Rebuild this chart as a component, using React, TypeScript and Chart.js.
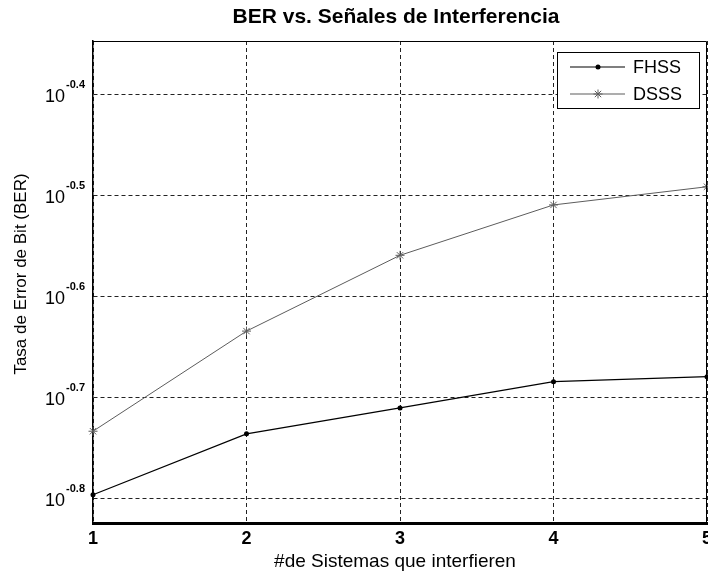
import React, { useEffect, useRef } from "react";
import { Chart, registerables } from "chart.js";

Chart.register(...registerables);

// Number of interfering systems
const systems = [1, 2, 3, 4, 5];
// Bit error rate per scheme
const fhssBer = [0.16, 0.1838, 0.195, 0.207, 0.2094];
const dsssBer = [0.1849, 0.2323, 0.2761, 0.3097, 0.3228];
// Decade exponents shown on the log axis
const yTickExponents = [-0.8, -0.7, -0.6, -0.5, -0.4];

const titleText = "BER vs. Señales de Interferencia";
const xTitleText = "#de Sistemas que interfieren";
const yTitleText = "Tasa de Error de Bit (BER)";
const seriesNames = ["FHSS", "DSSS"];

const FHSS_COLOR = "#000000";
const DSSS_COLOR = "#5c5c5c";
const FONT = "Arial, 'Liberation Sans', sans-serif";

function drawStar(ctx: CanvasRenderingContext2D, x: number, y: number, r: number) {
  const d = r * Math.SQRT1_2;
  ctx.beginPath();
  ctx.moveTo(x - r, y);
  ctx.lineTo(x + r, y);
  ctx.moveTo(x, y - r);
  ctx.lineTo(x, y + r);
  ctx.moveTo(x - d, y - d);
  ctx.lineTo(x + d, y + d);
  ctx.moveTo(x - d, y + d);
  ctx.lineTo(x + d, y - d);
  ctx.stroke();
}

const decorations = {
  id: "decorations",
  afterDraw(chart: any) {
    const { ctx, chartArea: a, scales } = chart;
    const yScale = scales.y;
    ctx.save();

    // top and right frame
    ctx.strokeStyle = "#000";
    ctx.lineWidth = 1;
    ctx.setLineDash([]);
    ctx.beginPath();
    ctx.moveTo(a.left, a.top + 0.5);
    ctx.lineTo(a.right - 0.5, a.top + 0.5);
    ctx.lineTo(a.right - 0.5, a.bottom);
    ctx.stroke();

    // y tick labels: 10 with superscript exponent
    ctx.fillStyle = "#000";
    const rightEdge = a.left - 8;
    yTickExponents.forEach((e) => {
      const py = yScale.getPixelForValue(Math.pow(10, e));
      const sup = e.toFixed(1);
      ctx.font = `bold 11px ${FONT}`;
      const supW = ctx.measureText(sup).width;
      ctx.textAlign = "left";
      ctx.textBaseline = "alphabetic";
      ctx.fillText(sup, rightEdge - supW, py - 6.5);
      ctx.font = `18px ${FONT}`;
      ctx.textAlign = "right";
      ctx.fillText("10", rightEdge - supW - 1, py + 7);
    });

    // chart title
    const cx = (a.left + a.right) / 2;
    ctx.font = `bold 21px ${FONT}`;
    ctx.textAlign = "center";
    ctx.textBaseline = "middle";
    ctx.fillText(titleText, cx - 4, 17);

    // x axis title
    ctx.font = `19px ${FONT}`;
    ctx.fillText(xTitleText, cx - 5, 562);

    // y axis title
    ctx.save();
    ctx.translate(21, (a.top + a.bottom) / 2 - 8);
    ctx.rotate(-Math.PI / 2);
    ctx.font = `17px ${FONT}`;
    ctx.fillText(yTitleText, 0, 0);
    ctx.restore();

    // legend
    const lx = a.right - 150;
    const ly = a.top + 11;
    const lw = 142;
    const lh = 56;
    ctx.fillStyle = "#fff";
    ctx.fillRect(lx, ly, lw, lh);
    ctx.strokeStyle = "#000";
    ctx.lineWidth = 1;
    ctx.strokeRect(lx + 0.5, ly + 0.5, lw, lh);

    const rows = [
      { name: seriesNames[0], color: FHSS_COLOR, y: ly + 15, star: false },
      { name: seriesNames[1], color: DSSS_COLOR, y: ly + 42, star: true },
    ];
    rows.forEach((r) => {
      ctx.strokeStyle = r.color;
      ctx.fillStyle = r.color;
      ctx.lineWidth = 1.2;
      ctx.beginPath();
      ctx.moveTo(lx + 13, r.y);
      ctx.lineTo(lx + 68, r.y);
      ctx.stroke();
      if (r.star) {
        ctx.lineWidth = 1;
        drawStar(ctx, lx + 41, r.y, 4.5);
      } else {
        ctx.beginPath();
        ctx.arc(lx + 41, r.y, 2.5, 0, Math.PI * 2);
        ctx.fill();
      }
      ctx.fillStyle = "#000";
      ctx.font = `18px ${FONT}`;
      ctx.textAlign = "left";
      ctx.textBaseline = "middle";
      ctx.fillText(r.name, lx + 76, r.y + 1);
    });

    ctx.restore();
  },
};

export default function App() {
  const ref = useRef<HTMLCanvasElement>(null);

  useEffect(() => {
    document.body.style.margin = "0";
    const canvas = ref.current;
    if (!canvas) return;

    const chart = new Chart(canvas, {
      type: "line",
      data: {
        datasets: [
          {
            label: seriesNames[0],
            data: systems.map((x, i) => ({ x, y: fhssBer[i] })),
            borderColor: FHSS_COLOR,
            backgroundColor: FHSS_COLOR,
            borderWidth: 1.2,
            pointStyle: "circle",
            pointRadius: 2.5,
            pointBorderWidth: 0,
            tension: 0,
            clip: false as any,
          },
          {
            label: seriesNames[1],
            data: systems.map((x, i) => ({ x, y: dsssBer[i] })),
            borderColor: DSSS_COLOR,
            backgroundColor: DSSS_COLOR,
            borderWidth: 1,
            pointStyle: "star",
            pointRadius: 4.5,
            pointBorderWidth: 1,
            tension: 0,
            clip: false as any,
          },
        ],
      },
      options: {
        animation: false,
        responsive: false,
        devicePixelRatio: 1,
        layout: { padding: { top: 41, right: 1, left: 0, bottom: 0 }, autoPadding: false },
        plugins: {
          legend: { display: false },
          title: { display: false },
          tooltip: { enabled: false },
        },
        scales: {
          x: {
            type: "linear",
            min: 1,
            max: 5,
            afterFit: (s: any) => {
              s.height = 52;
              s.paddingLeft = 0;
              s.paddingRight = 0;
            },
            afterBuildTicks: (s: any) => {
              s.ticks = systems.map((v) => ({ value: v }));
            },
            ticks: {
              color: "#000",
              font: { family: FONT, size: 18, weight: "bold" },
              padding: 5,
              maxRotation: 0,
              callback: (v: any) => String(v),
            },
            grid: { color: "#222", lineWidth: 1, drawTicks: false },
            border: { color: "#000", width: 3, dash: [4, 3] },
          },
          y: {
            type: "logarithmic",
            min: 0.15,
            max: 0.45,
            afterFit: (s: any) => {
              s.width = 93;
              s.paddingTop = 0;
              s.paddingBottom = 0;
            },
            afterBuildTicks: (s: any) => {
              s.ticks = yTickExponents.map((e) => ({ value: Math.pow(10, e) }));
            },
            ticks: { display: false },
            grid: { color: "#222", lineWidth: 1, drawTicks: false },
            border: { color: "#000", width: 1.5, dash: [4, 3] },
          },
        },
      },
      plugins: [decorations],
    });

    return () => chart.destroy();
  }, []);

  return (
    <div style={{ position: "absolute", left: 0, top: 0, width: 708, height: 575, background: "#fff" }}>
      <canvas ref={ref} width={708} height={575} style={{ width: 708, height: 575, display: "block" }} />
    </div>
  );
}
